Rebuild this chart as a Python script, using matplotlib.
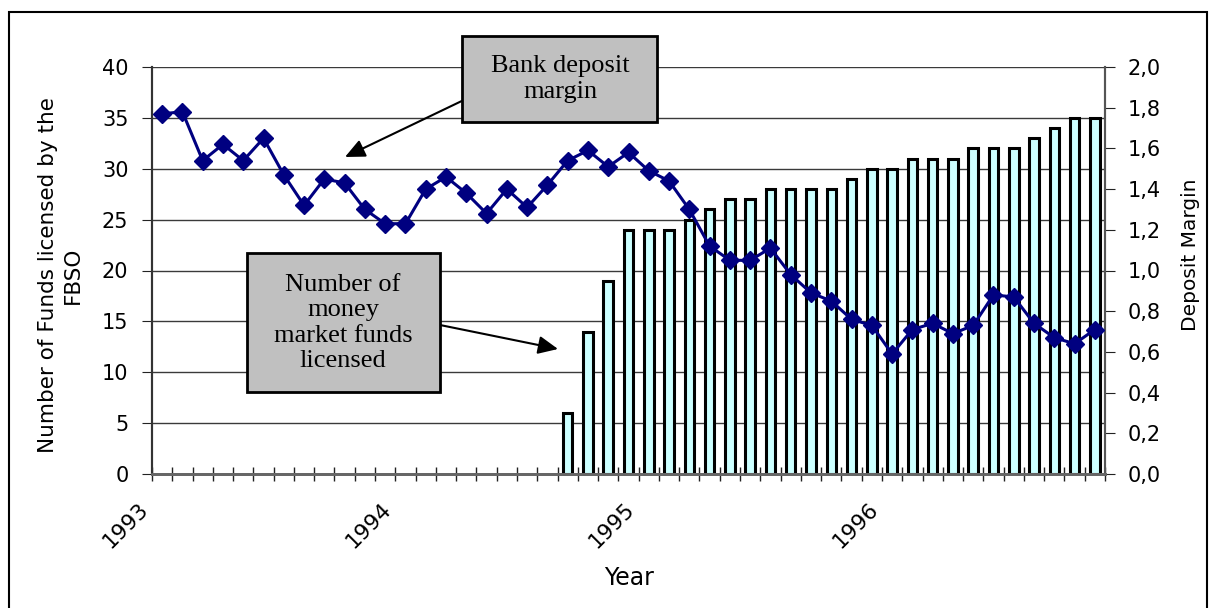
import numpy as np
import matplotlib.pyplot as plt
from matplotlib.patches import Rectangle
from matplotlib.transforms import ScaledTranslation

# monthly data, Feb 1993 - Dec 1996
deposit_margin = [1.77, 1.78, 1.54, 1.62, 1.54, 1.65, 1.47, 1.32, 1.45, 1.43,
                  1.30, 1.23, 1.23, 1.40, 1.46, 1.38, 1.28, 1.40, 1.31, 1.42,
                  1.54, 1.59, 1.51, 1.58, 1.49, 1.44, 1.30, 1.12, 1.05, 1.05,
                  1.11, 0.98, 0.89, 0.85, 0.76, 0.73, 0.59, 0.71, 0.74, 0.69,
                  0.73, 0.88, 0.87, 0.74, 0.67, 0.64, 0.71]
# number of money market funds (from Oct 1994)
funds = [6, 14, 19, 24, 24, 24, 25, 26, 27, 27, 28, 28, 28, 28, 29, 30, 30,
         31, 31, 31, 32, 32, 32, 33, 34, 35, 35]
year_labels = ["1993", "1994", "1995", "1996"]
# month index of each January (first data point is Feb 1993)
year_pos = [-1, 11, 23, 35]

W, H = 1218, 608
plt.rcParams['font.family'] = ['DejaVu Sans']

fig = plt.figure(figsize=(W / 100, H / 100), dpi=100)
ax = fig.add_axes([152 / W, 1 - 474 / H, (1105 - 152) / W, (474 - 67) / H])
ax2 = ax.twinx()

n = len(deposit_margin)
x = np.arange(n)
bar_x = x[n - len(funds):]

ax.set_axisbelow(True)
ax.yaxis.grid(True, color='#3a3a3a', lw=1.0)
ax.bar(bar_x, funds, width=0.47, color='#CCFFFF', edgecolor='black', linewidth=2.2, zorder=2)
ax.set_ylim(0, 40)
ax.set_yticks(range(0, 41, 5))
ax.set_xlim(-0.5, n - 0.5)
ax.set_xticks([])
ax.set_xticks(np.arange(-0.5, n, 1), minor=True)
ax.tick_params(axis='x', which='minor', direction='inout', length=10, width=1, color='#222222')
ax.tick_params(axis='y', direction='out', length=7, pad=10, labelsize=15, color='#222222')

# year labels (1993 sits left of the first month, so drawn as unclipped text)
lab_tr = ax.get_xaxis_transform() + ScaledTranslation(-0.04, -0.25, fig.dpi_scale_trans)
for p, lab in zip(year_pos, year_labels):
    ax.text(p, 0, lab, transform=lab_tr, rotation=45, ha='right', va='top',
            rotation_mode='anchor', fontsize=15.5, clip_on=False)

ax2.plot(x, deposit_margin, color='#000080', lw=2.2, marker='D', ms=9.5, zorder=5)
ax2.set_ylim(0, 2)
ticks2 = np.arange(0, 2.01, 0.2)
ax2.set_yticks(ticks2)
ax2.set_yticklabels([f"{v:.1f}".replace('.', ',') for v in ticks2])
ax2.tick_params(axis='y', direction='out', length=7, pad=9, labelsize=15, color='#222222')

for a in (ax, ax2):
    a.spines['top'].set_visible(False)
    a.spines['left'].set_color('#333333')
    a.spines['left'].set_linewidth(1.5)
    a.spines['right'].set_color('#555555')
    a.spines['right'].set_linewidth(1.5)
    a.spines['bottom'].set_color('#666666')
    a.spines['bottom'].set_linewidth(2)

fig.text(60 / W, 1 - 275 / H, "Number of Funds licensed by the\nFBSO", rotation=90,
         ha='center', va='center', multialignment='center', fontsize=15.5, linespacing=1.3)
fig.text(1190 / W, 1 - 255 / H, "Deposit Margin", rotation=90, ha='center', va='center', fontsize=14.5)
fig.text(629 / W, 1 - 578 / H, "Year", ha='center', va='center', fontsize=17)

fig.patches.append(Rectangle((462 / W, 1 - 122 / H), 195 / W, 86 / H, transform=fig.transFigure,
                             fc='#C0C0C0', ec='black', lw=2, zorder=10))
fig.text(560 / W, 1 - 79 / H, "Bank deposit\nmargin", ha='center', va='center',
         family='Liberation Serif', fontsize=19, zorder=11)
fig.patches.append(Rectangle((247 / W, 1 - 392 / H), 193 / W, 139 / H, transform=fig.transFigure,
                             fc='#C0C0C0', ec='black', lw=2, zorder=10))
fig.text(343 / W, 1 - 323 / H, "Number of\nmoney\nmarket funds\nlicensed", ha='center', va='center',
         family='Liberation Serif', fontsize=19, zorder=11)

arrow = dict(arrowstyle='-|>,head_length=1.2,head_width=0.55', color='black', lw=1.5, shrinkA=0, shrinkB=0)
ax2.annotate("", xy=(345 / W, 1 - 157 / H), xytext=(468 / W, 1 - 98 / H),
             xycoords='figure fraction', textcoords='figure fraction', arrowprops=arrow, zorder=12)
ax2.annotate("", xy=(558 / W, 1 - 349 / H), xytext=(440 / W, 1 - 325 / H),
             xycoords='figure fraction', textcoords='figure fraction', arrowprops=arrow, zorder=12)

# outer frame
fig.patches.append(Rectangle((9 / W, -0.05), 1198 / W, 1.05 - 12 / H, transform=fig.transFigure,
                             fill=False, ec='black', lw=1.5))

fig.savefig("out.png", dpi=100)
